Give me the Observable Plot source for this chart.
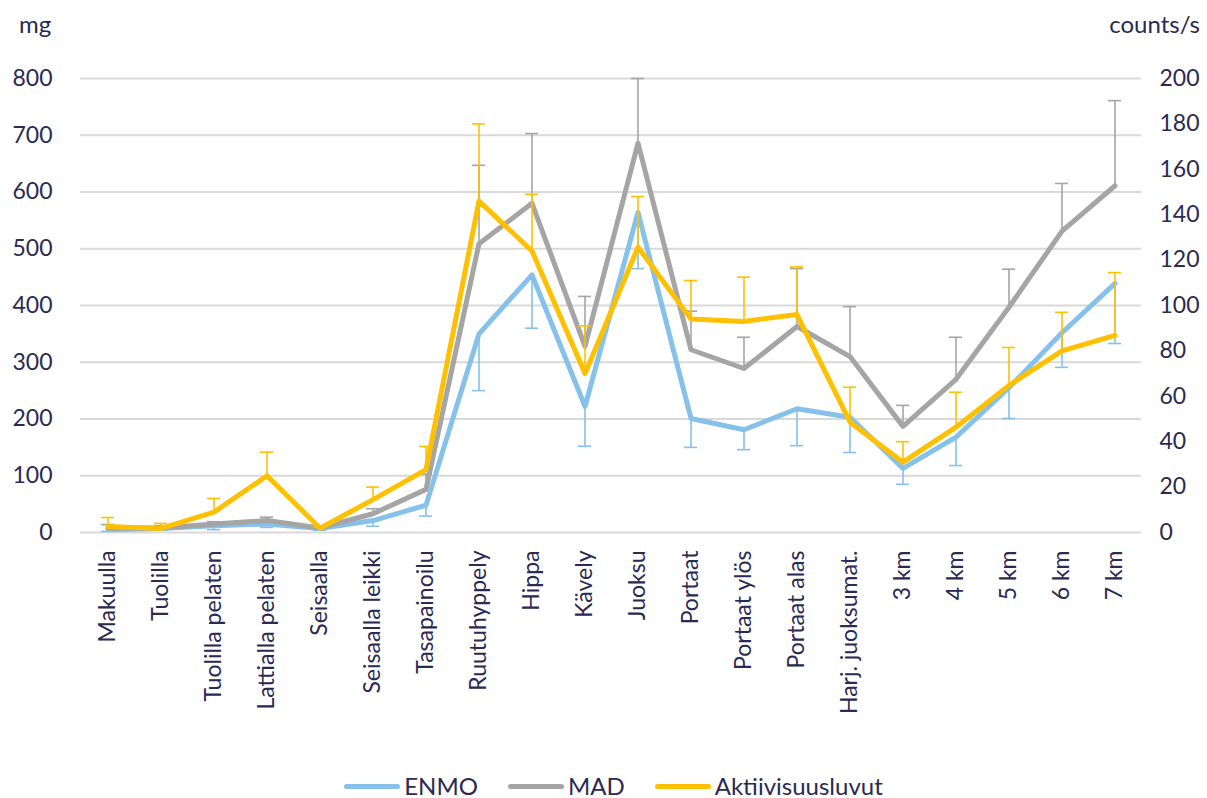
<!DOCTYPE html>
<html>
<head>
<meta charset="utf-8">
<script src="https://cdn.jsdelivr.net/npm/d3@7"></script>
<script src="https://cdn.jsdelivr.net/npm/@observablehq/plot@0.6"></script>
<style>
  html, body { margin: 0; padding: 0; background: #fff; }
  body { width: 1207px; height: 798px; position: relative; overflow: hidden; font-family: Lato, "Open Sans", sans-serif; color: #2a2a52; }
  #chart { position: absolute; left: 0; top: 0; }
  .unit { position: absolute; font-size: 24px; line-height: 28px; }
  #legend { position: absolute; left: 10px; width: 1207px; top: 772px; display: flex; justify-content: center; align-items: center; font-size: 24px; line-height: 28px; }
  .item { display: flex; align-items: center; margin: 0 15px; }
  .sw { width: 56px; height: 5px; border-radius: 3px; margin-right: 4px; }
</style>
</head>
<body>
<div class="unit" style="left:19px; top:10px;">mg</div>
<div class="unit" style="right:7px; top:10px;">counts/s</div>
<div id="chart"></div>
<div id="legend"></div>
<script>
const categories = ["Makuulla", "Tuolilla", "Tuolilla pelaten", "Lattialla pelaten", "Seisaalla",
  "Seisaalla leikki", "Tasapainoilu", "Ruutuhyppely", "Hippa", "Kävely", "Juoksu", "Portaat",
  "Portaat ylös", "Portaat alas", "Harj. juoksumat.", "3 km", "4 km", "5 km", "6 km", "7 km"];

// ENMO (mg), mean and lower error bound
const enmo    = [5, 7, 12, 15, 7, 21, 48, 350, 454, 222, 564, 201, 181, 218, 203, 113, 168, 255, 352, 439];
const enmoLow = [2, 4, 5, 9, 4, 11, 29, 250, 360, 152, 465, 150, 146, 153, 141, 85, 118, 201, 291, 333];

// MAD (mg), mean and upper error bound
const mad     = [8, 8, 15, 21, 8, 33, 76, 509, 580, 328, 686, 322, 289, 363, 310, 187, 270, 397, 531, 611];
const madHigh = [14, 12, 19, 27, 10, 42, 103, 647, 703, 416, 800, 390, 344, 465, 398, 224, 344, 464, 615, 761];

// Aktiivisuusluvut (counts/s), mean and upper error bound
const akt     = [2.6, 1.8, 9, 25, 1.9, 14.5, 27.7, 146, 124, 70, 125.7, 94, 93, 96, 48.6, 31, 46.4, 64.8, 80, 86.8];
const aktHigh = [6.6, 4, 15, 35.4, 2.5, 20, 37.9, 180, 149, 91, 148, 111, 112.5, 117, 64, 40, 61.8, 81.5, 97, 114.5];

const leftTicks = [0, 100, 200, 300, 400, 500, 600, 700, 800];
const rightTicks = [0, 20, 40, 60, 80, 100, 120, 140, 160, 180, 200];

const colors = { ENMO: "#85c1ea", MAD: "#a5a5a5", Aktiivisuusluvut: "#ffc000" };
const ratio = 4; // 800 mg == 200 counts/s

const enmoData = categories.map((c, i) => ({ cat: c, v: enmo[i], e: enmoLow[i] }));
const madData = categories.map((c, i) => ({ cat: c, v: mad[i], e: madHigh[i] }));
const aktData = categories.map((c, i) => ({ cat: c, v: akt[i] * ratio, e: aktHigh[i] * ratio }));

function series(data, color) {
  return [
    Plot.ruleX(data, { x: "cat", y1: "v", y2: "e", stroke: color, strokeWidth: 1.6 }),
    Plot.tickY(data, { x: "cat", y: "e", stroke: color, strokeWidth: 1.6, insetLeft: 20, insetRight: 20 }),
    Plot.lineY(data, { x: "cat", y: "v", stroke: color, strokeWidth: 5, strokeLinejoin: "round", curve: "linear" })
  ];
}

const chart = Plot.plot({
  width: 1207,
  height: 760,
  marginLeft: 80,
  marginRight: 66,
  marginTop: 78,
  marginBottom: 228,
  style: { fontFamily: "Lato, 'Open Sans', sans-serif", fontSize: "23px", color: "#2a2a52", background: "transparent" },
  x: { type: "band", domain: categories, padding: 0 },
  y: { domain: [0, 800] },
  marks: [
    Plot.gridY(leftTicks, { stroke: "#d9d9d9", strokeOpacity: 1, strokeWidth: 2 }),
    Plot.axisY(leftTicks, { anchor: "left", tickSize: 0, tickPadding: 28, fontSize: 23, label: null }),
    Plot.axisY(rightTicks.map(d => d * ratio), { anchor: "right", tickSize: 0, tickPadding: 18, fontSize: 23, label: null, tickFormat: d => d / ratio }),
    Plot.axisX({ anchor: "bottom", tickSize: 0, tickPadding: 18, tickRotate: -90, fontSize: 23, label: null }),
    ...series(enmoData, colors.ENMO),
    ...series(madData, colors.MAD),
    ...series(aktData, colors.Aktiivisuusluvut)
  ]
});
document.getElementById("chart").appendChild(chart);

const legend = document.getElementById("legend");
for (const [name, col] of Object.entries(colors)) {
  const item = document.createElement("div");
  item.className = "item";
  item.innerHTML = `<span class="sw" style="background:${col}"></span><span>${name}</span>`;
  legend.appendChild(item);
}
</script>
</body>
</html>
